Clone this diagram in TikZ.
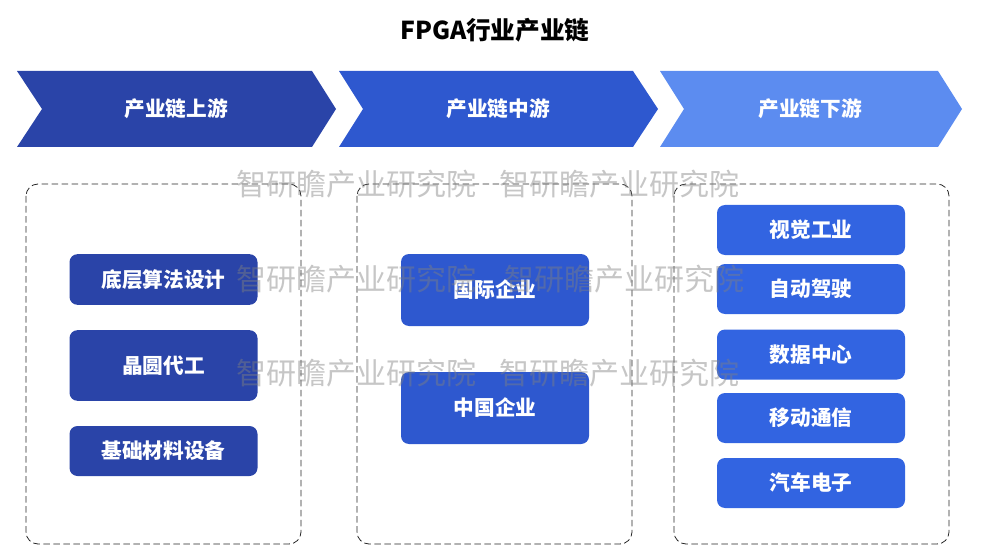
\documentclass[tikz,border=0pt]{standalone}
\usepackage{fontspec}
\setmainfont{Noto Sans CJK SC}
\definecolor{upblue}{RGB}{42,68,168}
\definecolor{midblue}{RGB}{46,88,207}
\definecolor{downblue}{RGB}{92,140,240}
\definecolor{itemblue}{RGB}{50,100,225}
\tikzset{
  band/.style={text=white,font=\bfseries\fontsize{15.5pt}{16pt}\selectfont},
  item/.style={rectangle,rounded corners=6pt,inner sep=0pt,minimum width=141pt,
    text=white,font=\bfseries\fontsize{15.5pt}{16pt}\selectfont},
  frame/.style={draw=black!85,line width=0.6pt,dash pattern=on 5pt off 2.5pt,rounded corners=9pt},
  wmtext/.style={anchor=west,inner sep=0pt,text=gray,text opacity=0.45,
    font=\fontsize{22.5pt}{23pt}\selectfont}
}
\begin{document}
\begin{tikzpicture}[x=0.75pt,y=-0.75pt]
\useasboundingbox (0,0) rectangle (985,556);
\node[font=\bfseries\fontsize{18.5pt}{19pt}\selectfont] (title) at (495,30) {FPGA行业产业链};
\fill[upblue] (17,71) -- (312,71) -- (336,109) -- (312,147) -- (17,147) -- (42,109) -- cycle;
\fill[midblue] (339,71) -- (633,71) -- (658,109) -- (633,147) -- (339,147) -- (363,109) -- cycle;
\fill[downblue] (660,71) -- (938,71) -- (962,109) -- (938,147) -- (660,147) -- (684,109) -- cycle;
\node[band] (up) at (176,109) {产业链上游};
\node[band] (mid) at (498,109) {产业链中游};
\node[band] (down) at (810,109) {产业链下游};
\draw[frame] (26,184) rectangle (301,544);
\draw[frame] (357,184) rectangle (632,544);
\draw[frame] (674,184) rectangle (949,544);
\node[item,fill=upblue,minimum height=38pt] (algo) at (163.5,279.5) {底层算法设计};
\node[item,fill=upblue,minimum height=53pt] (wafer) at (163.5,365.5) {晶圆代工};
\node[item,fill=upblue,minimum height=37.5pt] (mat) at (163.5,451) {基础材料设备};
\node[item,fill=midblue,minimum height=54pt] (intl) at (495,290) {国际企业};
\node[item,fill=midblue,minimum height=54pt] (cn) at (495,408) {中国企业};
\node[item,fill=itemblue,minimum height=37.5pt] (vision) at (811,230) {视觉工业};
\node[item,fill=itemblue,minimum height=37.5pt] (auto) at (811,289) {自动驾驶};
\node[item,fill=itemblue,minimum height=37.5pt] (dc) at (811,354.5) {数据中心};
\node[item,fill=itemblue,minimum height=37.5pt] (mobile) at (811,418) {移动通信};
\node[item,fill=itemblue,minimum height=37.5pt] (car) at (811,483) {汽车电子};
\node[wmtext] (wm1a) at (236,184) {智研瞻产业研究院};
\node[wmtext] (wm1b) at (499,184) {智研瞻产业研究院};
\node[wmtext] (wm2a) at (236,279) {智研瞻产业研究院};
\node[wmtext] (wm2b) at (504,279) {智研瞻产业研究院};
\node[wmtext] (wm3a) at (236,373) {智研瞻产业研究院};
\node[wmtext] (wm3b) at (499,373) {智研瞻产业研究院};
\end{tikzpicture}
\end{document}
